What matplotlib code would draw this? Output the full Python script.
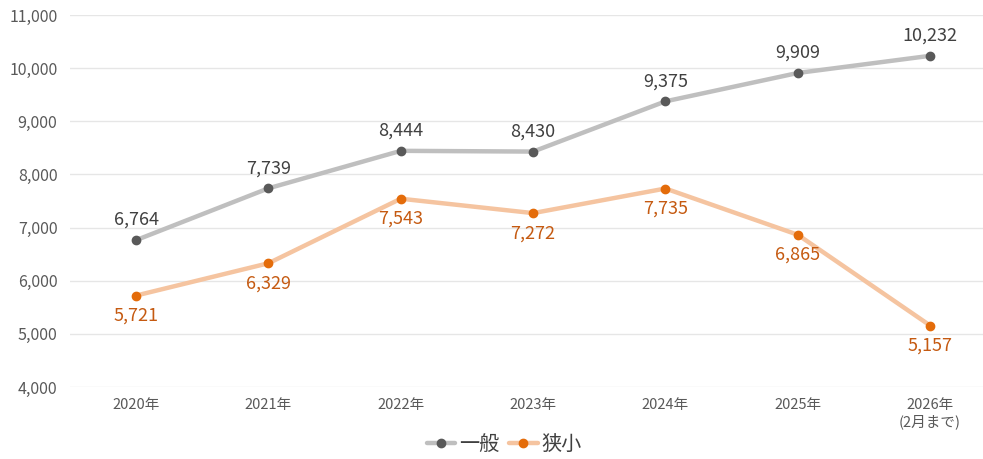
import matplotlib.pyplot as plt
from matplotlib.ticker import FuncFormatter

plt.rcParams['font.family'] = ['Noto Sans CJK JP', 'DejaVu Sans']

years = ["2020年", "2021年", "2022年", "2023年", "2024年", "2025年", "2026年\n(2月まで)"]
general = [6764, 7739, 8444, 8430, 9375, 9909, 10232]
narrow = [5721, 6329, 7543, 7272, 7735, 6865, 5157]

fig = plt.figure(figsize=(9.83, 4.59), dpi=100)
ax = fig.add_axes([70 / 983, 72 / 459, 913 / 983, 372 / 459])

x = list(range(len(years)))
ax.plot(x, general, color="#bfbfbf", lw=3.2, marker="o", ms=6,
        mfc="#595959", mec="#595959", label="一般", solid_capstyle="round", zorder=3)
ax.plot(x, narrow, color="#f5c4a0", lw=3.2, marker="o", ms=6,
        mfc="#e46c0a", mec="#e46c0a", label="狭小", solid_capstyle="round", zorder=3)

for i, v in enumerate(general):
    ax.annotate(f"{v:,}", (i, v), xytext=(0, 8), textcoords="offset points",
                ha="center", va="bottom", fontsize=13, color="#404040")
for i, v in enumerate(narrow):
    ax.annotate(f"{v:,}", (i, v), xytext=(0, -8), textcoords="offset points",
                ha="center", va="top", fontsize=13, color="#c55a11")

ax.set_xlim(-0.5, 6.4)
ax.set_ylim(4000, 11000)
ax.set_yticks(range(4000, 11001, 1000))
ax.yaxis.set_major_formatter(FuncFormatter(lambda v, p: f"{int(v):,}"))
ax.set_xticks(x)
ax.set_xticklabels(years)
ax.tick_params(axis="x", length=0, labelsize=10.5, colors="#595959", pad=8)
ax.tick_params(axis="y", length=0, labelsize=11.5, colors="#595959", pad=9)
ax.grid(axis="y", color="#e6e6e6", lw=1)
ax.set_axisbelow(True)
for s in ax.spines.values():
    s.set_visible(False)

fig.legend(loc="lower center", bbox_to_anchor=(0.513, -0.03), ncol=2, frameon=False,
           fontsize=14.5, handlelength=1.4, handletextpad=0.2, columnspacing=0.5,
           labelcolor="#404040")

fig.savefig("out.png", dpi=100, facecolor="white")
